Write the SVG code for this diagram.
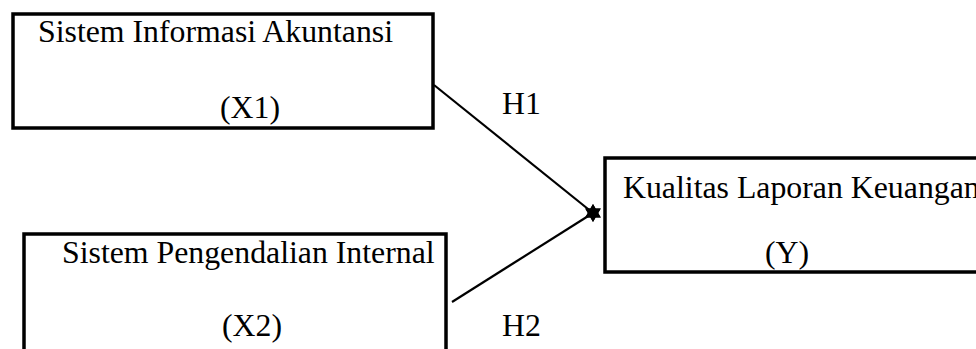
<svg xmlns="http://www.w3.org/2000/svg" width="976" height="349" viewBox="0 0 976 349">
<style>
.box{fill:#fff;stroke:#000;stroke-width:3.5}
.t{font-family:"Liberation Serif","Times New Roman",serif;font-size:31.8px;fill:#000}
.c{stroke:#000;stroke-width:2.2;fill:none}
</style>
<defs>
<marker id="star" viewBox="-10 -10 20 20" markerWidth="20" markerHeight="20" markerUnits="userSpaceOnUse" refX="0" refY="0" orient="0">
<polygon points="0,-9 2.6,-4.5 7.8,-4.5 5.2,0 7.8,4.5 2.6,4.5 0,9 -2.6,4.5 -7.8,4.5 -5.2,0 -7.8,-4.5 -2.6,-4.5" fill="#000"/>
</marker>
</defs>
<rect width="976" height="349" fill="#fff"/>
<g id="connectors">
<line class="c" x1="434" y1="85" x2="593" y2="213" marker-end="url(#star)"/>
<line class="c" x1="452" y1="302" x2="593" y2="213" marker-end="url(#star)"/>
<text class="t" x="502" y="114">H1</text>
<text class="t" x="502" y="336">H2</text>
</g>
<g id="x1">
<rect class="box" x="13" y="14" width="420" height="114"/>
<text class="t" x="38" y="42">Sistem Informasi Akuntansi</text>
<text class="t" x="220" y="118">(X1)</text>
</g>
<g id="x2">
<rect class="box" x="24" y="234" width="422" height="130"/>
<text class="t" x="62" y="263">Sistem Pengendalian Internal</text>
<text class="t" x="222" y="336">(X2)</text>
</g>
<g id="y">
<rect class="box" x="605" y="158" width="400" height="114"/>
<text class="t" x="623" y="198">Kualitas Laporan Keuangan</text>
<text class="t" x="765" y="263">(Y)</text>
</g>
</svg>
